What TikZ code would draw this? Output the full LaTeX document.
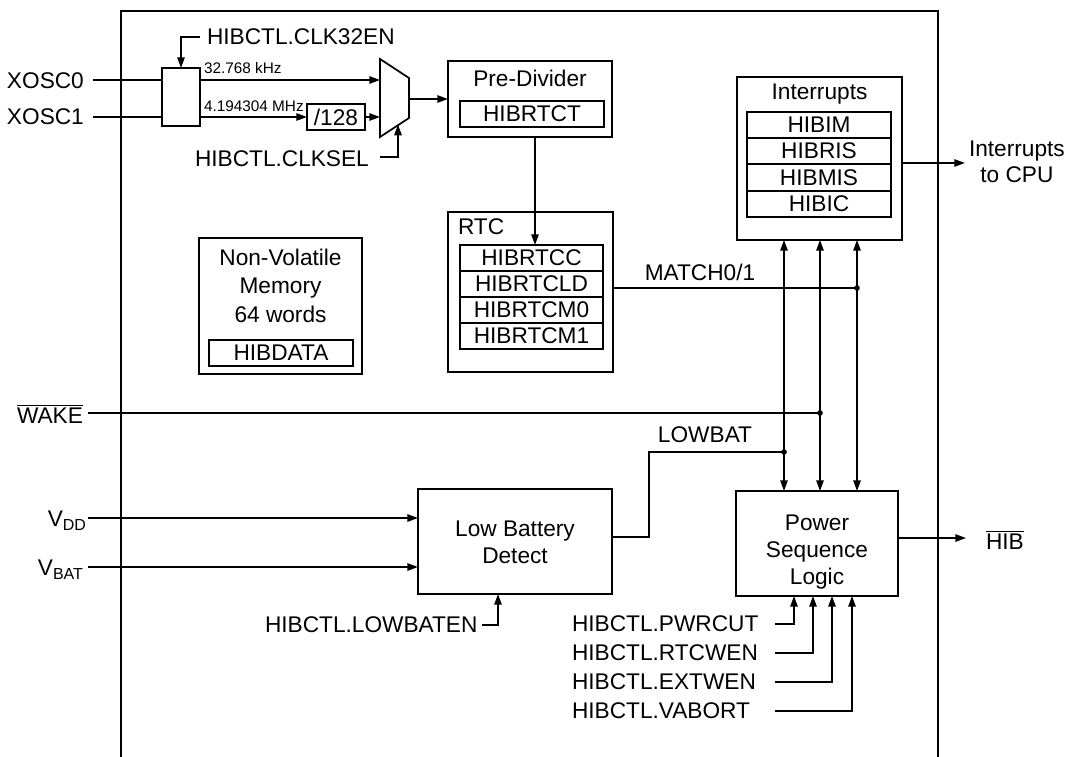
\documentclass[tikz,border=0pt]{standalone}
\usepackage{fontspec}
\setmainfont{Liberation Sans}
\usetikzlibrary{arrows.meta,fit}
\begin{document}
\begin{tikzpicture}[x=0.75pt,y=-0.75pt,
  font=\fontsize{17}{20}\selectfont,
  lw/.style={line width=1.3pt},
  box/.style={draw, lw, inner sep=0pt, outer sep=0pt},
  txt/.style={inner sep=0pt, outer sep=0pt},
  wire/.style={lw},
  arr/.style={lw, -{Triangle[length=8pt,width=5.5pt]}},
  barr/.style={lw, {Triangle[length=8pt,width=5.5pt]}-{Triangle[length=8pt,width=5.5pt]}},
  small/.style={font=\fontsize{11.5}{13}\selectfont},
  dot/.style={circle, fill, inner sep=0pt, minimum size=4.2pt}
]
\useasboundingbox (0,0) rectangle (1069,756);

% outer frame
\coordinate (fbl) at (121,757);
\coordinate (ftl) at (121,11);
\coordinate (ftr) at (938,11);
\coordinate (fbr) at (938,757);
\draw[lw] (fbl) -- (ftl) -- (ftr) -- (fbr);

% clock selection
\node[box, fit={(162,68)(200,126)}] (ck) {};
\node[txt, anchor=west] (clk32) at (207,37) {HIBCTL.CLK32EN};
\coordinate (clk32w) at (200,37);
\draw[arr] (clk32w) -| (ck.north);

\node[txt, anchor=west] (x0) at (7,80.5) {XOSC0};
\node[txt, anchor=west] (x1) at (7,117) {XOSC1};
\coordinate (x0w) at (93,80);
\coordinate (x1w) at (93,117);
\draw[wire] (x0w) -- (x0w -| ck.west);
\draw[wire] (x1w) -- (x1w -| ck.west);

% mux
\coordinate (mA) at (380,59);
\coordinate (mB) at (409,78);
\coordinate (mC) at (409,118);
\coordinate (mD) at (380,137);
\draw[lw, line join=miter] (mA) -- (mB) -- (mC) -- (mD) -- cycle;
\coordinate (mi0) at (380,80);
\coordinate (mo) at (409,99);
\coordinate (msel) at (398,124.6);

\draw[arr] (x0w -| ck.east) -- (mi0);
\node[txt, small, anchor=base west] (f32) at (204,74) {32.768 kHz};

\node[box, fit={(307,104)(365,130)}] (div) {};
\node[txt] (divt) at (div.center) {/128};
\draw[arr] (x1w -| ck.east) -- (div.west |- x1w);
\node[txt, small, anchor=base west] (f4m) at (204,112) {4.194304 MHz};
\draw[arr] (div.east) -- (div.east -| mA);

\node[txt, anchor=west] (clksel) at (195,159) {HIBCTL.CLKSEL};
\coordinate (cselw) at (380,157);
\draw[arr] (cselw) -| (msel);

% pre-divider
\node[box, fit={(448,61)(612,137)}] (pre) {};
\draw[arr] (mo) -- (mo -| pre.west);
\node[txt, anchor=base] (pret) at (530,87) {Pre-Divider};
\node[box, fit={(460,101)(604,127)}] (hrtct) {};
\node[txt] (hrtctt) at (hrtct.center) {HIBRTCT};

% RTC
\node[box, fit={(448,212)(613,372)}] (rtc) {};
\node[txt, anchor=base west] (rtct) at (458,234) {RTC};
\node[box, fit={(460,245)(603,271)}] (r1) {};
\node[box, fit={(460,271)(603,297)}] (r2) {};
\node[box, fit={(460,297)(603,323)}] (r3) {};
\node[box, fit={(460,323)(603,349)}] (r4) {};
\node[txt] (r1t) at (r1.center) {HIBRTCC};
\node[txt] (r2t) at (r2.center) {HIBRTCLD};
\node[txt] (r3t) at (r3.center) {HIBRTCM0};
\node[txt] (r4t) at (r4.center) {HIBRTCM1};
\coordinate (pd) at (535,200);
\draw[arr] (pd |- pre.south) -- (pd |- r1.north);

% non-volatile memory
\node[box, fit={(199,238)(362,374)}] (nvm) {};
\node[txt, align=center, font=\fontsize{17}{21.4}\selectfont] (nvmt) at (280.5,285.5) {Non-Volatile\\Memory\\64 words};
\node[box, fit={(209,340)(353,366)}] (hdata) {};
\node[txt] (hdatat) at (hdata.center) {HIBDATA};

% interrupts
\node[box, fit={(737,77)(902,240)}] (intr) {};
\node[txt, anchor=base] (intrt) at (819.5,100) {Interrupts};
\node[box, fit={(747,112)(891,138)}] (i1) {};
\node[box, fit={(747,138)(891,164)}] (i2) {};
\node[box, fit={(747,164)(891,191)}] (i3) {};
\node[box, fit={(747,191)(891,217)}] (i4) {};
\node[txt] (i1t) at (i1.center) {HIBIM};
\node[txt] (i2t) at (i2.center) {HIBRIS};
\node[txt] (i3t) at (i3.center) {HIBMIS};
\node[txt] (i4t) at (i4.center) {HIBIC};
\coordinate (cpu) at (965,163);
\draw[arr] (intr.east |- cpu) -- (cpu);
\node[txt, anchor=west, align=center, font=\fontsize{17}{19.5}\selectfont] (cput) at (969,162) {Interrupts\\to CPU};

% power sequence logic
\node[box, fit={(736,491)(898,596)}] (psl) {};
\node[txt, align=center, font=\fontsize{17}{20.5}\selectfont] (pslt) at (817,552) {Power\\Sequence\\Logic};

\coordinate (bx1) at (784,300);
\coordinate (bx2) at (820,300);
\coordinate (bx3) at (857,300);
\draw[barr] (bx1 |- intr.south) -- (bx1 |- psl.north);
\draw[barr] (bx2 |- intr.south) -- (bx2 |- psl.north);
\draw[barr] (bx3 |- intr.south) -- (bx3 |- psl.north);

% MATCH
\coordinate (mj) at (857,288);
\draw[wire] (rtc.east |- mj) -- (mj);
\node[dot] (mjd) at (mj) {};
\node[txt] (matcht) at (700,272) {MATCH0/1};

% WAKE
\node[txt, anchor=base west] (wakel) at (17,423) {$\overline{\mbox{WAKE}}$};
\coordinate (wk) at (88,413);
\coordinate (wj) at (820,413);
\draw[wire] (wk) -- (wj);
\node[dot] (wjd) at (wj) {};

% low battery detect
\node[box, fit={(418,489)(612,594)}] (lbd) {};
\node[txt, align=center, font=\fontsize{17}{20.5}\selectfont] (lbdt) at (515,542) {Low Battery\\Detect};

\coordinate (lb1) at (649,537);
\coordinate (lb2) at (649,452);
\coordinate (lbj) at (784,452);
\draw[wire] (lbd.east |- lb1) -- (lb1) -- (lb2) -- (lbj);
\node[dot] (lbjd) at (lbj) {};
\node[txt] (lowbatt) at (705,435) {LOWBAT};

\coordinate (vdd) at (88,518);
\coordinate (vbat) at (88,567);
\draw[arr] (vdd) -- (vdd -| lbd.west);
\draw[arr] (vbat) -- (vbat -| lbd.west);
\node[txt, anchor=base east] (vddl) at (86,526) {V\raisebox{-3.5pt}{\fontsize{12}{12}\selectfont DD}};
\node[txt, anchor=base east] (vbatl) at (83,575) {V\raisebox{-3.5pt}{\fontsize{12}{12}\selectfont BAT}};

\node[txt, anchor=west] (lbenl) at (265,625) {HIBCTL.LOWBATEN};
\coordinate (lbe) at (482,625);
\coordinate (lbex) at (498,610);
\draw[arr] (lbe) -| (lbex |- lbd.south);

% HIB output
\coordinate (hib) at (966,538);
\draw[arr] (psl.east |- hib) -- (hib);
\node[txt, anchor=base west] (hibl) at (986,549) {$\overline{\mbox{HIB}}$};

% control inputs
\node[txt, anchor=west] (c1l) at (572,624) {HIBCTL.PWRCUT};
\node[txt, anchor=west] (c2l) at (572,653) {HIBCTL.RTCWEN};
\node[txt, anchor=west] (c3l) at (572,682) {HIBCTL.EXTWEN};
\node[txt, anchor=west] (c4l) at (572,711) {HIBCTL.VABORT};
\coordinate (c1) at (775,624);
\coordinate (c2) at (775,653);
\coordinate (c3) at (775,682);
\coordinate (c4) at (775,711);
\coordinate (p1) at (794,650);
\coordinate (p2) at (813,650);
\coordinate (p3) at (832,650);
\coordinate (p4) at (852,650);
\draw[arr] (c1) -| (p1 |- psl.south);
\draw[arr] (c2) -| (p2 |- psl.south);
\draw[arr] (c3) -| (p3 |- psl.south);
\draw[arr] (c4) -| (p4 |- psl.south);
\end{tikzpicture}
\end{document}
